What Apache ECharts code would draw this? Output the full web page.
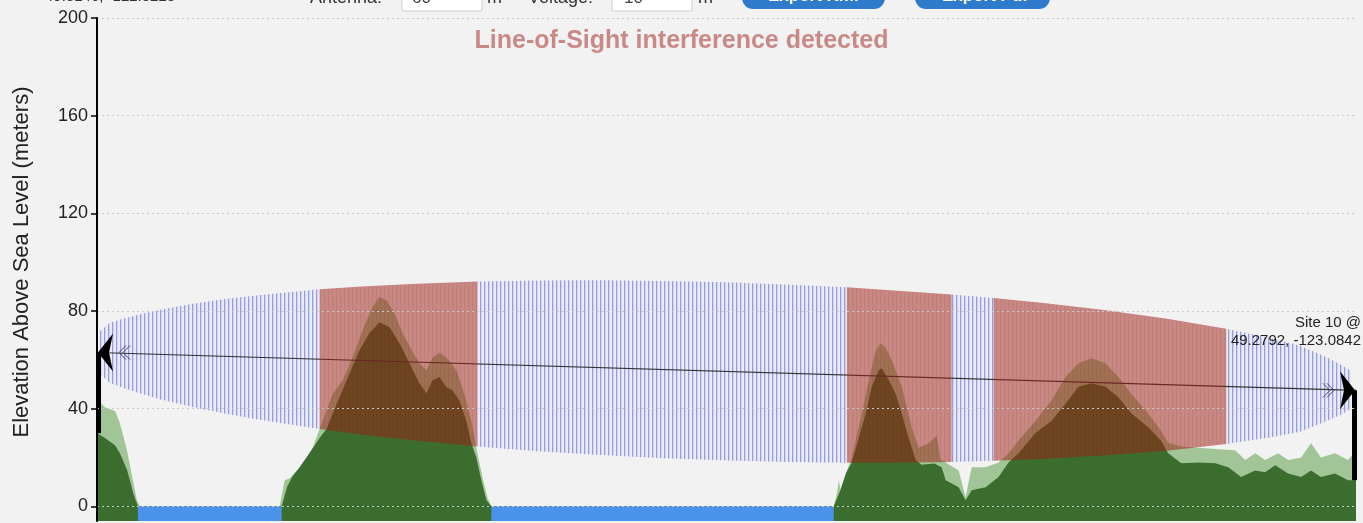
<!DOCTYPE html>
<html>
<head>
<meta charset="utf-8">
<title>Line-of-Sight profile</title>
<script src="https://cdn.jsdelivr.net/npm/echarts@6/dist/echarts.min.js"></script>
<style>
  html, body { margin: 0; padding: 0; background: #f2f2f2; }
  #profile { width: 1363px; height: 523px; }
</style>
</head>
<body>
<div id="profile"></div>
<script>
// distance along the path in % (left site = 0, right site = 100), elevations in meters
var groundDist = [0, 0.63, 1.43, 1.82, 2.38, 2.62, 2.9, 3.25, 14.67, 15.1, 15.5, 16.1, 16.9, 17.68, 18.27, 18.48, 19.83, 20.86, 21.65, 22.44, 23.24, 24.03, 24.82, 25.61, 26.17, 26.65, 27.2, 27.76, 28.23, 28.79, 29.34, 29.74, 30.13, 30.53, 30.93, 31.32, 58.52, 59.0, 59.48, 59.95, 60.51, 61.06, 61.54, 62.09, 62.33, 62.89, 63.44, 63.92, 64.47, 65.03, 65.5, 66.5, 67.09, 67.41, 68.44, 68.99, 69.47, 70.58, 71.61, 72.4, 73.2, 74.54, 75.81, 76.92, 77.95, 78.98, 80.1, 81.13, 82.16, 83.5, 84.5, 85.09, 86.12, 87.47, 88.82, 89.85, 90.88, 91.99, 92.78, 93.58, 94.61, 95.64, 96.43, 97.22, 98.33, 99.37, 100];
var groundElev = [30, 28, 25, 21.7, 15, 10.6, 5, 0, 0, 8, 12, 16, 22, 28, 32, 35, 51.6, 64, 71, 75.4, 73.4, 66.8, 58.6, 50.4, 46.3, 51.6, 53, 48.8, 47.5, 43.4, 35, 25.8, 20, 10.7, 2.5, 0, 0, 6, 13.5, 18, 28, 38, 49, 55.7, 56.6, 51.6, 46, 38, 28, 19, 17, 17.5, 16, 10.7, 7.8, 2.5, 6.6, 7.8, 12, 18, 21.7, 30, 35, 42, 49, 50.4, 49, 44.7, 38, 32.4, 27, 21.7, 17.6, 18, 17.6, 16, 12, 14.7, 14, 16.8, 13.5, 12, 14.7, 12, 13.5, 10.7, 10.7];

var clutterDist = [0, 0.63, 1.43, 1.82, 2.38, 2.85, 3.17, 3.41, 14.51, 14.91, 15.31, 16.1, 16.5, 17.13, 17.92, 18.72, 19.51, 20.3, 21.09, 21.89, 22.44, 23.0, 23.63, 24.27, 24.98, 25.61, 26.17, 26.65, 27.2, 27.76, 28.55, 29.18, 29.74, 30.13, 30.61, 31.01, 31.32, 58.52, 58.8, 58.92, 59.16, 59.48, 59.95, 60.75, 61.3, 61.86, 62.25, 62.65, 63.12, 63.92, 64.71, 65.27, 66.06, 66.69, 67.01, 67.41, 68.44, 68.99, 69.47, 70.58, 71.61, 72.4, 73.2, 74.54, 75.81, 76.92, 77.95, 78.98, 80.1, 81.13, 82.16, 83.5, 84.5, 85.09, 86.12, 87.47, 88.82, 90.4, 91.2, 91.99, 92.78, 93.81, 94.61, 95.64, 96.43, 97.22, 98.33, 99.37, 100];
var clutterElev = [44, 40.6, 39, 34, 23, 10.7, 2.5, 0, 0, 10.7, 11.5, 16, 19, 24, 35, 46, 51.6, 61, 72, 81.6, 85.7, 84.4, 79, 71, 64, 58.6, 55.7, 61, 63, 61, 55.7, 46, 35, 24, 12, 3.7, 0, 0, 6, 10.7, 4, 13.5, 20, 38, 51.6, 64, 66.8, 64.8, 60, 49, 32.4, 24, 25.8, 29, 19, 18, 14.7, 3.7, 16, 16, 18, 21.7, 27, 35, 43.4, 53, 58.6, 60.7, 58.6, 53, 46, 38, 31, 26, 24.5, 24, 23.5, 23, 19, 21.7, 19, 21.7, 19, 20, 25.8, 20, 21.7, 19, 23];

var waterRanges = [[3.25, 14.67], [31.32, 58.52]];

// first Fresnel zone outline
var ellipseDist = [0.2, 1, 2, 3.5, 5, 7.5, 10, 13, 17.68, 21, 25, 30.21, 35, 40, 45, 50, 55, 59.56, 63, 67.88, 71.21, 75, 80, 85, 89.69, 93, 95.5, 97.5, 98.8, 99.6];
var ellipseTop = [71.5, 75.1, 76.7, 78.8, 80.5, 82.9, 84.8, 86.6, 88.9, 90.0, 91.1, 92.1, 92.5, 92.6, 92.3, 91.8, 90.8, 89.7, 88.5, 86.8, 85.3, 83.4, 80.4, 76.8, 72.7, 69.1, 65.9, 61.5, 58.0, 55.5];
var ellipseBottom = [54.5, 50.6, 48.7, 46.1, 43.9, 40.8, 38.1, 35.4, 31.7, 29.4, 27.1, 24.5, 22.6, 21.0, 19.7, 18.8, 18.2, 17.9, 17.9, 18.2, 18.7, 19.4, 20.8, 22.8, 25.5, 28.1, 30.5, 34.5, 37.5, 40.0];
var clearZones = [[0.2, 17.68], [30.21, 59.56], [67.88, 71.21], [89.69, 99.6]];
var obstructedZones = [[17.68, 30.21], [59.56, 67.88], [71.21, 89.69]];

// sites: distance, ground, antenna top, side
var siteDist = [0, 100];
var siteGround = [30, 10.7];
var siteAntenna = [63, 47.5];
var siteSide = [-1, 1];
var siteLabels = ['', 'Site 10 @\n49.2792, -123.0842'];

var yTicks = [0, 40, 80, 120, 160, 200];

var FONT = '"Liberation Sans", Arial, sans-serif';

function zip(a, b) {
  return a.map(function (v, i) { return [v, b[i]]; });
}

// vertical hatch used for the Fresnel zone
function stripes(bg, fg, w) {
  var c = document.createElement('canvas');
  c.width = 4; c.height = 8;
  var ctx = c.getContext('2d');
  ctx.fillStyle = bg; ctx.fillRect(0, 0, 4, 8);
  ctx.fillStyle = fg; ctx.fillRect(0, 0, w, 8);
  return { image: c, repeat: 'repeat' };
}
var clearHatch = stripes('#eaebf8', '#979dd8', 1.3);
var blockedHatch = stripes('rgba(160,30,20,0.5)', 'rgba(110,10,0,0.07)', 1.3);

function bandPoints(api, from, to) {
  var up = [], down = [];
  for (var i = 0; i < ellipseDist.length; i++) {
    var d = ellipseDist[i];
    if (d < from - 1e-6 || d > to + 1e-6) continue;
    up.push(api.coord([d, ellipseTop[i]]));
    down.unshift(api.coord([d, ellipseBottom[i]]));
  }
  return up.concat(down);
}

var waterData = [];
waterRanges.forEach(function (r, i) {
  if (i > 0) waterData.push([(r[0] + waterRanges[i - 1][1]) / 2, '-']);
  waterData.push([r[0], 0], [r[1], 0]);
});

var sites = siteDist.map(function (d, i) {
  return [d, siteGround[i], siteAntenna[i], siteSide[i], i];
});

var myChart = echarts.init(document.getElementById('profile'));

var option = {
  backgroundColor: '#f2f2f2',
  animation: false,
  title: {
    text: 'Line-of-Sight interference detected',
    left: 'center',
    top: 24,
    textStyle: { color: '#c98a87', fontSize: 25, fontWeight: 'bold', fontFamily: FONT }
  },
  grid: { left: 97, right: 7, top: 18, bottom: 2 },
  xAxis: { type: 'value', min: 0, max: 100, show: false },
  yAxis: {
    type: 'value',
    min: -6,
    max: 200,
    z: 10,
    axisLine: { show: true, lineStyle: { color: '#000', width: 2 } },
    axisTick: { show: true, length: 6, customValues: yTicks, lineStyle: { color: '#000', width: 1.5 } },
    axisLabel: { customValues: yTicks, fontSize: 18, color: '#222', margin: 9, fontFamily: FONT },
    splitLine: { show: true, lineStyle: { color: '#c8c8c8', type: [2, 3], width: 1 } }
  },
  graphic: [
    {
      type: 'text', x: 22, y: 262, rotation: Math.PI / 2,
      style: { text: 'Elevation Above Sea Level (meters)', font: '22px ' + FONT, fill: '#222', align: 'center', verticalAlign: 'middle' }
    },
    { type: 'text', left: 45, top: -11, style: { text: '49.3146, -122.3223', font: '15px ' + FONT, fill: '#333' } },
    { type: 'text', left: 310, top: -11, style: { text: 'Antenna:', font: '18px ' + FONT, fill: '#333' } },
    { type: 'rect', shape: { x: 402, y: -14, width: 80, height: 25, r: 2 }, style: { fill: '#fff', stroke: '#ccc' } },
    { type: 'text', left: 412, top: -10, style: { text: '60', font: '17px ' + FONT, fill: '#444' } },
    { type: 'text', left: 487, top: -11, style: { text: 'm', font: '18px ' + FONT, fill: '#333' } },
    { type: 'text', left: 528, top: -11, style: { text: 'Voltage:', font: '18px ' + FONT, fill: '#333' } },
    { type: 'rect', shape: { x: 612, y: -14, width: 80, height: 25, r: 2 }, style: { fill: '#fff', stroke: '#ccc' } },
    { type: 'text', left: 624, top: -10, style: { text: '10', font: '17px ' + FONT, fill: '#444' } },
    { type: 'text', left: 698, top: -11, style: { text: 'm', font: '18px ' + FONT, fill: '#333' } },
    { type: 'rect', shape: { x: 742, y: -16, width: 143, height: 25, r: 11 }, style: { fill: '#2e7bcb' } },
    { type: 'text', left: 768, top: -12, style: { text: 'Export Kml', font: 'bold 17px ' + FONT, fill: '#fff' } },
    { type: 'rect', shape: { x: 915, y: -16, width: 135, height: 25, r: 11 }, style: { fill: '#2e7bcb' } },
    { type: 'text', left: 942, top: -12, style: { text: 'Export Pdf', font: 'bold 17px ' + FONT, fill: '#fff' } }
  ],
  series: [
    {
      name: 'Fresnel zone',
      type: 'custom',
      z: 2,
      data: clearZones,
      renderItem: function (params, api) {
        return { type: 'polygon', shape: { points: bandPoints(api, api.value(0), api.value(1)) }, style: { fill: clearHatch } };
      }
    },
    {
      name: 'Clutter',
      type: 'line',
      z: 3,
      data: zip(clutterDist, clutterElev),
      symbol: 'none',
      lineStyle: { width: 0 },
      areaStyle: { color: '#a1c597', opacity: 1, origin: 'start' }
    },
    {
      name: 'Ground',
      type: 'line',
      z: 4,
      data: zip(groundDist, groundElev),
      symbol: 'none',
      lineStyle: { width: 0 },
      areaStyle: { color: '#3b6d2f', opacity: 1, origin: 'start' }
    },
    {
      name: 'Water',
      type: 'line',
      z: 5,
      data: waterData,
      symbol: 'none',
      connectNulls: false,
      lineStyle: { width: 0 },
      areaStyle: { color: '#4b92ea', opacity: 1, origin: 'start' }
    },
    {
      name: 'Line of sight',
      type: 'line',
      z: 6,
      data: [[siteDist[0], siteAntenna[0]], [siteDist[1], siteAntenna[1]]],
      symbol: 'none',
      lineStyle: { color: '#333', width: 1.2 }
    },
    {
      name: 'Obstructed',
      type: 'custom',
      z: 7,
      data: obstructedZones,
      renderItem: function (params, api) {
        return { type: 'polygon', shape: { points: bandPoints(api, api.value(0), api.value(1)) }, style: { fill: blockedHatch } };
      }
    },
    {
      name: 'Sites',
      type: 'custom',
      z: 8,
      clip: false,
      data: sites,
      renderItem: function (params, api) {
        var dir = api.value(3);
        var base = api.coord([api.value(0), api.value(1)]);
        var top = api.coord([api.value(0), api.value(2)]);
        var mx = base[0] - dir * 1.5;
        var tx = top[0] - dir * 1, ty = top[1];
        var c = tx - dir * 21;
        var kids = [
          { type: 'line', shape: { x1: mx, y1: base[1], x2: mx, y2: ty }, style: { stroke: '#000', lineWidth: 5 } },
          { type: 'polygon', shape: { points: [[tx, ty], [tx - dir * 15, ty - 19], [tx - dir * 11, ty], [tx - dir * 15, ty + 19]] }, style: { fill: '#000' } },
          { type: 'polyline', shape: { points: [[c - dir * 7, ty - 7], [c, ty], [c - dir * 7, ty + 7]] }, style: { stroke: '#3b4080', lineWidth: 1, fill: null } },
          { type: 'polyline', shape: { points: [[c - dir * 11, ty - 7], [c - dir * 4, ty], [c - dir * 11, ty + 7]] }, style: { stroke: '#3b4080', lineWidth: 1, fill: null } }
        ];
        var label = siteLabels[api.value(4)];
        if (label) {
          kids.push({
            type: 'text', x: tx + 6, y: ty - 59,
            style: { text: label, font: '15px ' + FONT, fill: '#222', align: 'right', verticalAlign: 'middle', lineHeight: 18 }
          });
        }
        return { type: 'group', children: kids };
      }
    }
  ]
};

myChart.setOption(option);
</script>
</body>
</html>
